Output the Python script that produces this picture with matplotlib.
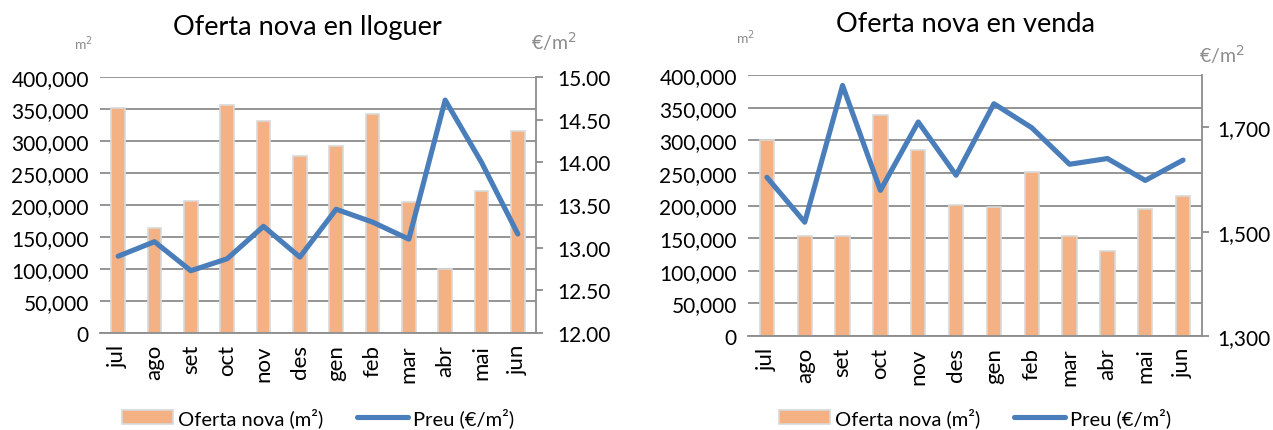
import matplotlib.pyplot as plt
import matplotlib.ticker as ticker
from matplotlib.patches import Patch
from matplotlib.lines import Line2D

plt.rcParams['font.family'] = ['Lato', 'DejaVu Sans']

# Daten
mesos = ['jul', 'ago', 'set', 'oct', 'nov', 'des', 'gen', 'feb', 'mar', 'abr', 'mai', 'jun']

lloguer_m2 = [352000, 164000, 206000, 356000, 332000, 276000, 292000, 342000, 204000, 100000, 222000, 315000]
lloguer_preu = [12.90, 13.07, 12.73, 12.87, 13.25, 12.89, 13.45, 13.30, 13.10, 14.73, 14.00, 13.16]

venda_m2 = [301000, 154000, 154000, 339000, 285000, 201000, 197000, 251000, 153000, 131000, 194000, 214000]
venda_preu = [1604, 1518, 1780, 1579, 1710, 1608, 1745, 1699, 1629, 1640, 1598, 1637]

W, H = 1273, 431
BAR = '#F4B183'
EDGE = '#D9D9D9'
LINE = '#4A7EBB'
GRID = '#8C8C8C'
GREY = '#8C8C8C'

fig = plt.figure(figsize=(W / 100, H / 100), dpi=100)


def panel(rect, title, m2, preu, ylim2, yticks2, fmt2, pad2, title_xy, unit_l, unit_r):
    x0, y0, x1, y1 = rect
    ax = fig.add_axes([x0 / W, (H - y1) / H, (x1 - x0) / W, (y1 - y0) / H])
    xs = range(len(mesos))
    ax.bar(xs, m2, width=0.38, color=BAR, edgecolor=EDGE, linewidth=1.2, zorder=2)
    ax.set_xlim(-0.5, len(mesos) - 0.5)
    ax.set_ylim(0, 400000)
    ax.set_yticks(range(0, 400001, 50000))
    ax.yaxis.set_major_formatter(ticker.FuncFormatter(lambda v, p: f'{int(v):,}'))
    ax.set_axisbelow(True)
    ax.grid(axis='y', color=GRID, linewidth=1.3, zorder=0)
    ax.set_xticks(list(xs))
    ax.set_xticklabels(mesos, rotation=90, fontsize=16)
    ax.tick_params(axis='x', length=0, pad=8)
    ax.tick_params(axis='y', length=0, pad=8, labelsize=15)
    for s in ['top', 'left', 'right']:
        ax.spines[s].set_visible(False)
    ax.spines['bottom'].set_color(GRID)
    ax.spines['bottom'].set_linewidth(1.3)

    ax2 = ax.twinx()
    ax2.plot(xs, preu, color=LINE, linewidth=3.7, solid_capstyle='round')
    ax2.set_ylim(*ylim2)
    ax2.set_yticks(yticks2)
    ax2.yaxis.set_major_formatter(ticker.FuncFormatter(fmt2))
    ax2.tick_params(axis='y', length=5, width=1.3, color=GRID, pad=pad2, labelsize=15)
    for s in ['top', 'left', 'bottom']:
        ax2.spines[s].set_visible(False)
    ax2.spines['right'].set_color(GRID)
    ax2.spines['right'].set_linewidth(1.3)

    fig.text(title_xy[0] / W, 1 - title_xy[1] / H, title, fontsize=19.5, ha='center', va='center')
    fig.text(unit_l[0] / W, 1 - unit_l[1] / H, 'm$^2$', fontsize=10, color=GREY, ha='center', va='center')
    fig.text(unit_r[0] / W, 1 - unit_r[1] / H, '€/m$^2$', fontsize=14, color=GREY, ha='center', va='center')

    cx = (x0 + x1) / 2
    handles = [Patch(facecolor=BAR, edgecolor=EDGE, linewidth=1.2),
               Line2D([0], [0], color=LINE, linewidth=3.7, solid_capstyle='round')]
    fig.legend(handles, ['Oferta nova (m²)', 'Preu (€/m²)'], loc='lower center',
               bbox_to_anchor=(cx / W, -0.035), ncol=2, frameon=False, fontsize=14.5,
               handlelength=2.5, handletextpad=0.25, columnspacing=1.7)
    return ax, ax2


panel((100, 78, 536, 334), 'Oferta nova en lloguer', lloguer_m2, lloguer_preu,
      (12, 15), [12 + 0.5 * i for i in range(7)], lambda v, p: f'{v:.2f}', 10,
      (307, 28), (83, 44), (554, 42))

panel((748, 76, 1202, 337), 'Oferta nova en venda', venda_m2, venda_preu,
      (1300, 1800), [1300, 1500, 1700], lambda v, p: f'{int(v):,}', 6,
      (965, 25), (745, 38), (1222, 55))

plt.savefig('out.png', dpi=100)
